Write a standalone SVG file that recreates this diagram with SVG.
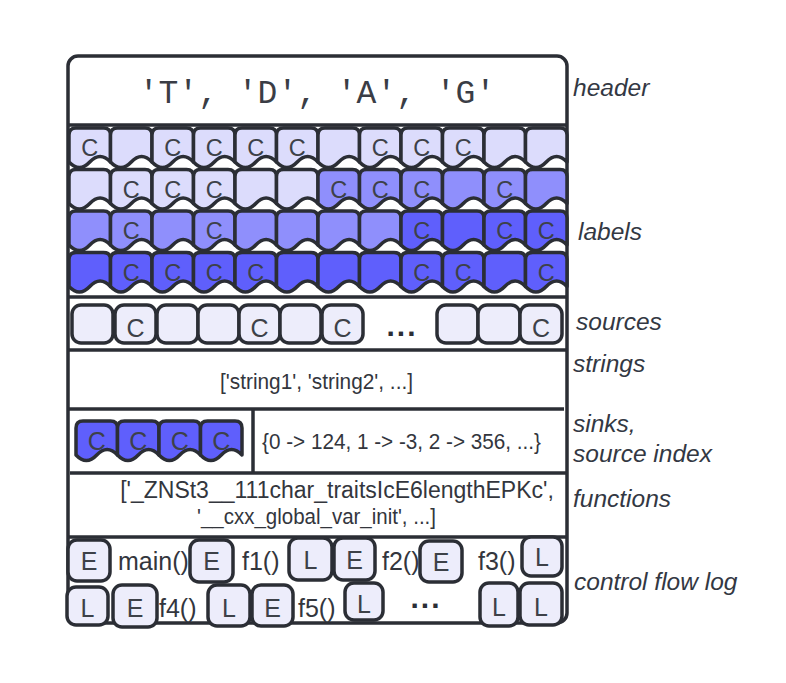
<svg xmlns="http://www.w3.org/2000/svg" xmlns:xlink="http://www.w3.org/1999/xlink" width="786" height="683" viewBox="0 0 786 683">
<style>
.frame{fill:#ffffff;stroke:#2b2e35;stroke-width:3.5}
.div{stroke:#2b2e35;stroke-width:3.5;fill:none}
.doc{stroke:#2b2e35;stroke-width:3.5;stroke-linejoin:round}
.lt{fill:#dcdcfc}
.md{fill:#8f8ffc}
.dk{fill:#5f5ffc}
.box{fill:#ededfb;stroke:#2b2e35;stroke-width:3.5}
.c{font-family:"Liberation Sans",Arial,sans-serif;font-size:23.5px;fill:#3d4148;text-anchor:middle}
.cb{font-family:"Liberation Sans",Arial,sans-serif;font-size:25px;fill:#3d4148;text-anchor:middle}
.t{font-family:"Liberation Sans",Arial,sans-serif;font-size:22px;fill:#33363d}
.t23{font-family:"Liberation Sans",Arial,sans-serif;font-size:23px;fill:#33363d;text-anchor:middle}
.fn{font-family:"Liberation Sans",Arial,sans-serif;font-size:25px;fill:#33363d}
.side{font-family:"Liberation Sans",Arial,sans-serif;font-style:italic;font-size:24.5px;fill:#333843}
.mono{font-family:"Liberation Mono","DejaVu Sans Mono",monospace;font-size:33px;fill:#3a3d45;text-anchor:middle}
.dots{font-family:"Liberation Sans",Arial,sans-serif;font-size:30px;font-weight:bold;fill:#2b2e35;text-anchor:middle;letter-spacing:2px}
</style>
<defs>
<path id="doc" d="M0,34 V7 Q0,0 7,0 H34.5 Q41.5,0 41.5,7 V34 Q31.1,23 20.75,34 T0,34 Z"/>
</defs>

<rect class="frame" x="68" y="56" width="499" height="567" rx="10"/>

<g id="connectors"/>

<g id="header">
<text class="mono" x="317" y="103">'T', 'D', 'A', 'G'</text>
</g>

<g id="dividers">
<line class="div" x1="68" y1="125" x2="567" y2="125"/>
<line class="div" x1="68" y1="297" x2="567" y2="297"/>
<line class="div" x1="68" y1="350" x2="567" y2="350"/>
<line class="div" x1="68" y1="409" x2="564" y2="409"/>
<line class="div" x1="253" y1="409" x2="253" y2="473"/>
<line class="div" x1="70" y1="473" x2="567" y2="473"/>
<line class="div" x1="68" y1="537" x2="567" y2="537"/>
</g>

<g id="labels">
<!-- row 1 -->
<use xlink:href="#doc" class="doc lt" x="69" y="128"/>
<use xlink:href="#doc" class="doc lt" x="110.5" y="128"/>
<use xlink:href="#doc" class="doc lt" x="152" y="128"/>
<use xlink:href="#doc" class="doc lt" x="193.5" y="128"/>
<use xlink:href="#doc" class="doc lt" x="235" y="128"/>
<use xlink:href="#doc" class="doc lt" x="276.5" y="128"/>
<use xlink:href="#doc" class="doc lt" x="318" y="128"/>
<use xlink:href="#doc" class="doc lt" x="359.5" y="128"/>
<use xlink:href="#doc" class="doc lt" x="401" y="128"/>
<use xlink:href="#doc" class="doc lt" x="442.5" y="128"/>
<use xlink:href="#doc" class="doc lt" x="484" y="128"/>
<use xlink:href="#doc" class="doc lt" x="525.5" y="128"/>
<text class="c" x="89.75" y="156">C</text>
<text class="c" x="172.75" y="156">C</text>
<text class="c" x="214.25" y="156">C</text>
<text class="c" x="255.75" y="156">C</text>
<text class="c" x="297.25" y="156">C</text>
<text class="c" x="380.25" y="156">C</text>
<text class="c" x="421.75" y="156">C</text>
<text class="c" x="463.25" y="156">C</text>
<!-- row 2 -->
<use xlink:href="#doc" class="doc lt" x="69" y="169.5"/>
<use xlink:href="#doc" class="doc lt" x="110.5" y="169.5"/>
<use xlink:href="#doc" class="doc lt" x="152" y="169.5"/>
<use xlink:href="#doc" class="doc lt" x="193.5" y="169.5"/>
<use xlink:href="#doc" class="doc lt" x="235" y="169.5"/>
<use xlink:href="#doc" class="doc lt" x="276.5" y="169.5"/>
<use xlink:href="#doc" class="doc md" x="318" y="169.5"/>
<use xlink:href="#doc" class="doc md" x="359.5" y="169.5"/>
<use xlink:href="#doc" class="doc md" x="401" y="169.5"/>
<use xlink:href="#doc" class="doc md" x="442.5" y="169.5"/>
<use xlink:href="#doc" class="doc md" x="484" y="169.5"/>
<use xlink:href="#doc" class="doc md" x="525.5" y="169.5"/>
<text class="c" x="131.25" y="197.5">C</text>
<text class="c" x="172.75" y="197.5">C</text>
<text class="c" x="214.25" y="197.5">C</text>
<text class="c" x="338.75" y="197.5">C</text>
<text class="c" x="380.25" y="197.5">C</text>
<text class="c" x="421.75" y="197.5">C</text>
<text class="c" x="504.75" y="197.5">C</text>
<!-- row 3 -->
<use xlink:href="#doc" class="doc md" x="69" y="211"/>
<use xlink:href="#doc" class="doc md" x="110.5" y="211"/>
<use xlink:href="#doc" class="doc md" x="152" y="211"/>
<use xlink:href="#doc" class="doc md" x="193.5" y="211"/>
<use xlink:href="#doc" class="doc md" x="235" y="211"/>
<use xlink:href="#doc" class="doc md" x="276.5" y="211"/>
<use xlink:href="#doc" class="doc md" x="318" y="211"/>
<use xlink:href="#doc" class="doc md" x="359.5" y="211"/>
<use xlink:href="#doc" class="doc dk" x="401" y="211"/>
<use xlink:href="#doc" class="doc dk" x="442.5" y="211"/>
<use xlink:href="#doc" class="doc dk" x="484" y="211"/>
<use xlink:href="#doc" class="doc dk" x="525.5" y="211"/>
<text class="c" x="131.25" y="239">C</text>
<text class="c" x="214.25" y="239">C</text>
<text class="c" x="421.75" y="239">C</text>
<text class="c" x="504.75" y="239">C</text>
<text class="c" x="546.25" y="239">C</text>
<!-- row 4 -->
<use xlink:href="#doc" class="doc dk" x="69" y="252.5"/>
<use xlink:href="#doc" class="doc dk" x="110.5" y="252.5"/>
<use xlink:href="#doc" class="doc dk" x="152" y="252.5"/>
<use xlink:href="#doc" class="doc dk" x="193.5" y="252.5"/>
<use xlink:href="#doc" class="doc dk" x="235" y="252.5"/>
<use xlink:href="#doc" class="doc dk" x="276.5" y="252.5"/>
<use xlink:href="#doc" class="doc dk" x="318" y="252.5"/>
<use xlink:href="#doc" class="doc dk" x="359.5" y="252.5"/>
<use xlink:href="#doc" class="doc dk" x="401" y="252.5"/>
<use xlink:href="#doc" class="doc dk" x="442.5" y="252.5"/>
<use xlink:href="#doc" class="doc dk" x="484" y="252.5"/>
<use xlink:href="#doc" class="doc dk" x="525.5" y="252.5"/>
<text class="c" x="131.25" y="280.5">C</text>
<text class="c" x="172.75" y="280.5">C</text>
<text class="c" x="214.25" y="280.5">C</text>
<text class="c" x="255.75" y="280.5">C</text>
<text class="c" x="421.75" y="280.5">C</text>
<text class="c" x="463.25" y="280.5">C</text>
<text class="c" x="546.25" y="280.5">C</text>
</g>

<g id="sources">
<rect class="box" x="72" y="305" width="41" height="38" rx="9"/>
<rect class="box" x="115" y="305" width="41" height="38" rx="9"/>
<rect class="box" x="157" y="305" width="41" height="38" rx="9"/>
<rect class="box" x="198" y="305" width="41" height="38" rx="9"/>
<rect class="box" x="239" y="305" width="41" height="38" rx="9"/>
<rect class="box" x="280" y="305" width="41" height="38" rx="9"/>
<rect class="box" x="322" y="305" width="41" height="38" rx="9"/>
<text class="dots" x="402" y="336">...</text>
<rect class="box" x="437" y="305" width="41" height="38" rx="9"/>
<rect class="box" x="478" y="305" width="42" height="38" rx="9"/>
<rect class="box" x="520" y="305" width="42" height="38" rx="9"/>
<text class="cb" x="135.5" y="337">C</text>
<text class="cb" x="259.5" y="337">C</text>
<text class="cb" x="342.5" y="337">C</text>
<text class="cb" x="541" y="337">C</text>
</g>

<g id="strings">
<text class="t" x="220" y="389" textLength="193" lengthAdjust="spacingAndGlyphs">['string1', 'string2', ...]</text>
</g>

<g id="sinks">
<use xlink:href="#doc" class="doc dk" x="76" y="421"/>
<use xlink:href="#doc" class="doc dk" x="117.5" y="421"/>
<use xlink:href="#doc" class="doc dk" x="159" y="421"/>
<use xlink:href="#doc" class="doc dk" x="200.5" y="421"/>
<text class="cb" x="96.75" y="450">C</text>
<text class="cb" x="138.25" y="450">C</text>
<text class="cb" x="179.75" y="450">C</text>
<text class="cb" x="221.25" y="450">C</text>
<text class="t" x="262" y="449" textLength="279" lengthAdjust="spacingAndGlyphs">{0 -&gt; 124, 1 -&gt; -3, 2 -&gt; 356, ...}</text>
</g>

<g id="functions">
<text class="t23" x="337" y="498">['_ZNSt3__111char_traitsIcE6lengthEPKc',</text>
<text class="t" x="197" y="524" textLength="239" lengthAdjust="spacingAndGlyphs">'__cxx_global_var_init', ...]</text>
</g>

<g id="control-flow-log">
<rect class="box" x="68" y="540" width="42" height="41" rx="9"/>
<text class="cb" x="89" y="570">E</text>
<text class="fn" x="118" y="570">main()</text>
<rect class="box" x="190" y="540" width="43" height="42" rx="9"/>
<text class="cb" x="211.5" y="570">E</text>
<text class="fn" x="242" y="570">f1()</text>
<rect class="box" x="289" y="538" width="43" height="42" rx="9"/>
<text class="cb" x="310.5" y="569">L</text>
<rect class="box" x="334" y="538" width="41" height="42" rx="9"/>
<text class="cb" x="354.5" y="569">E</text>
<text class="fn" x="382" y="570">f2()</text>
<rect class="box" x="420" y="541" width="42" height="41" rx="9"/>
<text class="cb" x="441" y="571">E</text>
<text class="fn" x="478" y="570">f3()</text>
<rect class="box" x="522" y="537" width="40" height="39" rx="9"/>
<text class="cb" x="542" y="566">L</text>

<rect class="box" x="67" y="587" width="41" height="38" rx="9"/>
<text class="cb" x="87.5" y="617">L</text>
<rect class="box" x="113" y="585" width="44" height="42" rx="9"/>
<text class="cb" x="135" y="617">E</text>
<text class="fn" x="159" y="617">f4()</text>
<rect class="box" x="208" y="585" width="42" height="41" rx="9"/>
<text class="cb" x="229" y="617">L</text>
<rect class="box" x="252" y="585" width="41" height="41" rx="9"/>
<text class="cb" x="272.5" y="617">E</text>
<text class="fn" x="298" y="617">f5()</text>
<rect class="box" x="345" y="583" width="38" height="37" rx="9"/>
<text class="cb" x="364" y="613">L</text>
<text class="dots" x="426" y="608">...</text>
<rect class="box" x="480" y="583" width="38" height="43" rx="9"/>
<text class="cb" x="499" y="616">L</text>
<rect class="box" x="520" y="583" width="42" height="42" rx="9"/>
<text class="cb" x="541" y="616">L</text>
</g>

<g id="side-labels">
<text class="side" x="573" y="96">header</text>
<text class="side" x="578" y="240">labels</text>
<text class="side" x="576" y="330">sources</text>
<text class="side" x="573" y="372">strings</text>
<text class="side" x="573" y="432">sinks,</text>
<text class="side" x="573" y="462">source index</text>
<text class="side" x="573" y="507">functions</text>
<text class="side" x="574" y="590">control flow log</text>
</g>
</svg>
